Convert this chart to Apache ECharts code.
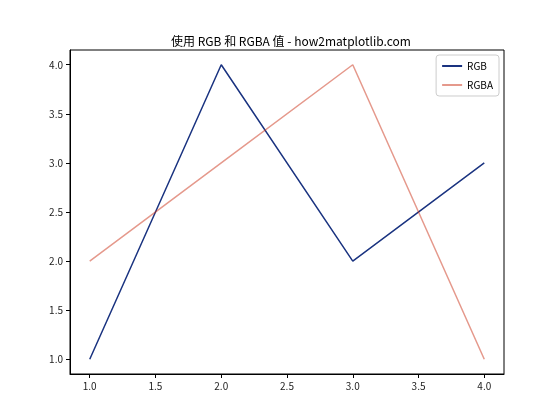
<!DOCTYPE html>
<html>
<head>
<meta charset="utf-8">
<script src="https://cdn.jsdelivr.net/npm/echarts@6/dist/echarts.min.js"></script>
<style>
  html, body { margin: 0; padding: 0; background: #fff; }
  #main { width: 560px; height: 420px; }
</style>
</head>
<body>
<div id="main"></div>
<script>
// Daten
var xValues = [1, 2, 3, 4];
var rgbValues = [1, 4, 2, 3];
var rgbaValues = [2, 3, 4, 1];
var tickValues = [1, 1.5, 2, 2.5, 3, 3.5, 4];

var font = '"Noto Sans CJK SC", "DejaVu Sans", sans-serif';

function pairs(xs, ys) {
  return xs.map(function (x, i) { return [x, ys[i]]; });
}

var myChart = echarts.init(document.getElementById('main'));

function makeAxis() {
  return {
    type: 'value',
    min: 0.85,
    max: 4.15,
    axisLine: { show: true, onZero: false, lineStyle: { color: '#000', width: 1 } },
    axisTick: { show: true, length: 4, lineStyle: { color: '#000' }, customValues: tickValues },
    axisLabel: { color: '#222', fontSize: 10, fontFamily: font, margin: 7,
      customValues: tickValues,
      formatter: function (v) { return v.toFixed(1); } },
    splitLine: { show: false }
  };
}

var option = {
  animation: false,
  title: {
    text: '使用 RGB 和 RGBA 值 - how2matplotlib.com',
    left: 166,
    top: 30,
    textStyle: { fontSize: 12, fontWeight: 'normal', color: '#000', fontFamily: font }
  },
  legend: {
    orient: 'vertical',
    right: 61,
    top: 55,
    itemWidth: 20,
    itemHeight: 2,
    itemGap: 9,
    padding: [6, 6, 6, 6],
    borderColor: '#ccc',
    borderWidth: 1,
    borderRadius: 3,
    icon: 'rect',
    textStyle: { fontSize: 10, color: '#000', fontFamily: font },
    data: ['RGB', 'RGBA']
  },
  grid: { left: 70, right: 56, top: 50, bottom: 46, show: true, borderColor: '#000', borderWidth: 1 },
  xAxis: makeAxis(),
  yAxis: makeAxis(),
  series: [
    {
      name: 'RGB',
      type: 'line',
      data: pairs(xValues, rgbValues),
      showSymbol: false,
      lineStyle: { color: '#1a3380', width: 1.5 },
      itemStyle: { color: '#1a3380' }
    },
    {
      name: 'RGBA',
      type: 'line',
      data: pairs(xValues, rgbaValues),
      showSymbol: false,
      lineStyle: { color: 'rgba(204, 51, 25, 0.5)', width: 1.5 },
      itemStyle: { color: 'rgba(204, 51, 25, 0.5)' }
    }
  ]
};

myChart.setOption(option);
</script>
</body>
</html>
